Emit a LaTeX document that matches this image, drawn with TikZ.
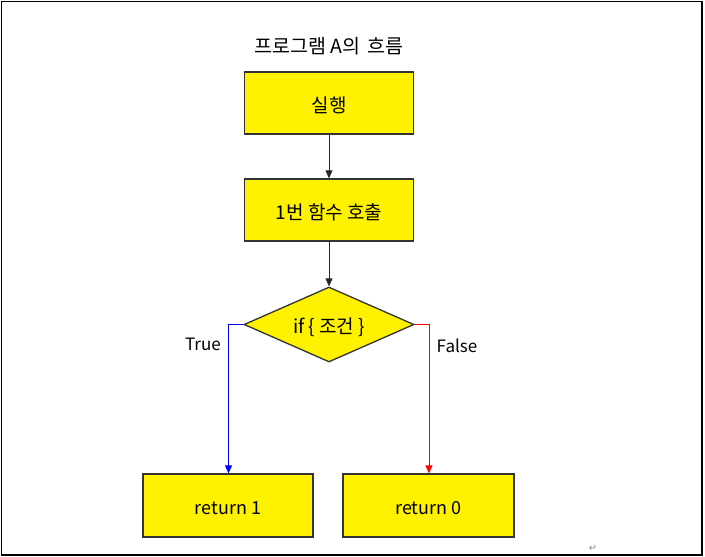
\documentclass[tikz,border=0pt]{standalone}
\usepackage{fontspec}
\setmainfont{Noto Sans CJK KR}
\newfontfamily\symfont{DejaVu Sans}
\usetikzlibrary{shapes.geometric,arrows.meta}
\newcommand{\dn}[1]{\raisebox{-2.5pt}[\height][\depth]{#1}}
\tikzset{
  flowbox/.style={draw=black!80, line width=1.3pt, fill=yellow, rectangle, inner sep=0pt},
  kotext/.style={font=\fontsize{19}{22}\selectfont},
  latext/.style={font=\fontsize{18}{21}\selectfont},
  lbltext/.style={font=\fontsize{17}{20}\selectfont},
  arr/.style={line width=0.8pt, -{Triangle[length=8pt,width=7pt]}},
}
\begin{document}
\begin{tikzpicture}[x=1pt,y=-1pt]
\useasboundingbox (0,0) rectangle (705,557);
\draw[line width=1.3pt, black] (1.5,1.5) rectangle (702,555);
\node[font=\fontsize{19.5}{22}\selectfont] (title) at (329,46) {프로그램 A의\, 흐름};
\node[flowbox, minimum width=169pt, minimum height=62pt, kotext] (run) at (329,103) {\dn{실행}};
\node[flowbox, minimum width=169pt, minimum height=62pt, kotext] (call) at (329,210) {\dn{1번 함수 호출}};
\node[flowbox, diamond, aspect=2.27, minimum width=170pt, minimum height=75pt, kotext] (cond) at (329,324.5) {\dn{if \{ 조건 \}}};
\node[flowbox, minimum width=170pt, minimum height=63pt, latext] (r1) at (228,505.5) {\dn{return 1}};
\node[flowbox, minimum width=171pt, minimum height=63pt, latext] (r0) at (428.5,505.5) {\dn{return 0}};
\coordinate (tl) at (228.5,324.5);
\coordinate (fr) at (429,324.5);
\draw[arr, black!85] (run.south) -- (call.north);
\draw[arr, black!85] (call.south) -- (cond.north);
\draw[arr, blue] (cond.west) -- (tl) -- (tl |- r1.north);
\draw[arr, red] (cond.east) -- (fr) -- (fr |- r0.north);
\node[lbltext] (ltrue) at (203,344) {True};
\node[lbltext] (lfalse) at (457,345.5) {False};
\node[text=black!45, font=\symfont\fontsize{10}{12}\selectfont] (ret) at (593,548) {↵};
\end{tikzpicture}
\end{document}
